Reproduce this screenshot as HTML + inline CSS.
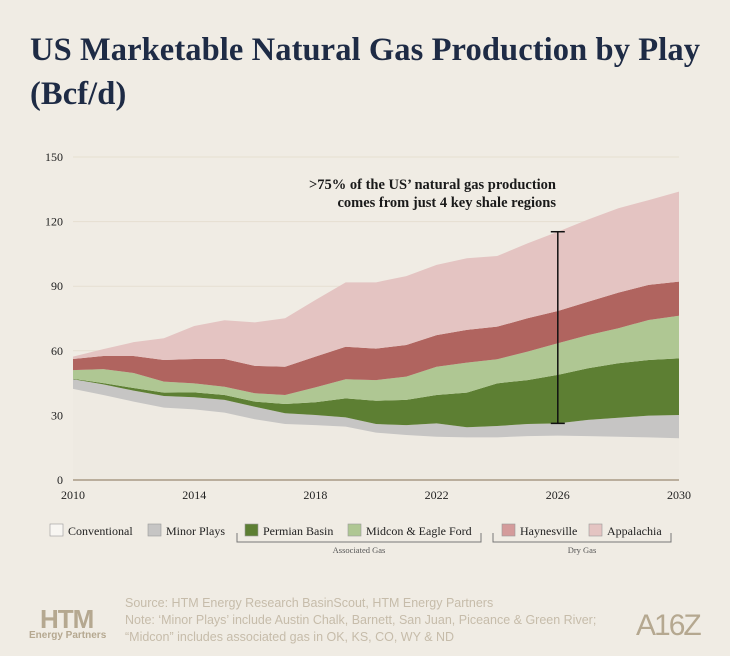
<!DOCTYPE html>
<html><head><meta charset="utf-8">
<style>
body{margin:0;background:#f0ece4;}
#root{position:relative;width:730px;height:656px;background:#f0ece4;overflow:hidden;font-family:"Liberation Serif",serif;}
h1{position:absolute;left:30px;top:28px;margin:0;font-size:32.5px;line-height:44px;color:#1e2b45;font-weight:bold;font-family:"Liberation Serif",serif;letter-spacing:0.1px;}
svg text{font-family:"Liberation Serif",serif;}
.foot{position:absolute;left:125px;color:#c6bcaa;font-family:"Liberation Sans",sans-serif;font-size:12.5px;}
</style></head><body>
<div id="root">
<h1>US Marketable Natural Gas Production by Play<br>(Bcf/d)</h1>
<svg id="chart" width="730" height="656" style="position:absolute;left:0;top:0"></svg>
<div class="foot" style="top:596px">Source: HTM Energy Research BasinScout, HTM Energy Partners</div>
<div class="foot" style="top:613px">Note: ‘Minor Plays’ include Austin Chalk, Barnett, San Juan, Piceance &amp; Green River;</div>
<div class="foot" style="top:630px">“Midcon” includes associated gas in OK, KS, CO, WY &amp; ND</div>
<div style="position:absolute;left:40px;top:604px;font-family:'Liberation Sans',sans-serif;font-weight:bold;color:#b5a890;font-size:26px;letter-spacing:-1px">HTM</div>
<div style="position:absolute;left:29px;top:630px;font-family:'Liberation Sans',sans-serif;font-weight:bold;color:#b5a890;font-size:10px">Energy Partners</div>
<div style="position:absolute;left:636px;top:609px;font-family:'Liberation Sans',sans-serif;color:#b5a890;font-size:30px;letter-spacing:-2px">A16Z</div>
</div>
<script>
const years=[2010,2011,2012,2013,2014,2015,2016,2017,2018,2019,2020,2021,2022,2023,2024,2025,2026,2027,2028,2029,2030];
const conventional=[42.3,39.5,36.4,33.6,32.8,31.3,28.2,26,25.5,24.8,22,20.9,20.1,19.8,19.8,20.4,20.6,20.4,20.1,19.8,19.4];
const minorPlays=[4.5,4.9,5.1,5.4,5.6,5.9,5.8,5,4.7,4.3,4,4.6,6.2,4.7,5.3,5.6,5.7,7.5,8.8,10.1,10.8];
const permian=[0.2,0.6,1.2,1.6,2.3,2.3,2.4,4.3,5.9,8.8,10.8,11.7,13.2,16.1,19.8,20.4,22.5,24,25.3,25.8,26.3];
const midcon=[4,6.5,7,5.1,4.2,3.8,3.9,4.2,6.9,8.9,9.6,10.8,13.1,13.9,11.2,13.2,14.7,15.4,16.3,18.6,19.8];
const haynesville=[5.2,6.1,7.9,10,11.3,12.9,12.7,13.1,14.3,15.1,14.6,14.7,14.7,15.2,15.1,15.5,15,15.5,16.5,16.3,15.8];
const appalachia=[1.1,3.2,6.4,10.1,15.3,18,20.2,22.5,26.3,29.9,30.8,32,32.6,33.3,32.8,34.8,36.8,38.2,39.2,39.4,41.8];
const yTicks=[0,30,60,90,120,150];
const xTicks=[2010,2014,2018,2022,2026,2030];
const seriesNames=["Conventional","Minor Plays","Permian Basin","Midcon & Eagle Ford","Haynesville","Appalachia"];

const svg=document.getElementById('chart');
const NS='http://www.w3.org/2000/svg';
const X0=73,X1=679,Y0=480,Y1=157;
const xS=v=>X0+(v-years[0])/(years[years.length-1]-years[0])*(X1-X0);
const yS=v=>Y0-v/150*(Y0-Y1);
function mk(t,a){const e=document.createElementNS(NS,t);for(const k in a)e.setAttribute(k,a[k]);svg.appendChild(e);return e;}

yTicks.forEach(t=>{
  if(t>0){const g=mk('line',{x1:X0,x2:X1,y1:yS(t),y2:yS(t),stroke:'#e6dfd1','stroke-width':1});
  
  }
  const l=mk('text',{x:63,y:yS(t)+4,'text-anchor':'end','font-size':12,fill:'#222'});l.textContent=t;
  
  
});
const series=[conventional,minorPlays,permian,midcon,haynesville,appalachia];
const colors=['#eeeae2','#c6c5c4','#5d7f33','#afc793','#b0645f','#e4c4c2'];
const slugs=['conventional','minor-plays','permian-basin','midcon-eagle-ford','haynesville','appalachia'];
let base=years.map(()=>0);
series.forEach((s,i)=>{
  const top=base.map((b,j)=>b+s[j]);
  let d='M'+years.map((y,j)=>xS(y)+','+yS(top[j])).join('L');
  for(let j=years.length-1;j>=0;j--)d+='L'+xS(years[j])+','+yS(base[j]);
  const p=mk('path',{d:d+'Z',fill:colors[i]});
  
  
  base=top;
});
const ax=mk('line',{x1:X0,x2:X1,y1:Y0,y2:Y0,stroke:'#a89a85','stroke-width':1.5});


xTicks.forEach(t=>{
  const l=mk('text',{x:xS(t),y:499,'text-anchor':'middle','font-size':12,fill:'#222'});l.textContent=t;
  
  
});
const i26=years.indexOf(2026);
const lo=conventional[i26]+minorPlays[i26];
const hi=series.reduce((a,s)=>a+s[i26],0);
const ex=xS(2026);
[[ex,yS(lo),ex,yS(hi)],[ex-7,yS(lo),ex+7,yS(lo)],[ex-7,yS(hi),ex+7,yS(hi)]].forEach((c,k)=>{
  const e=mk('line',{x1:c[0],y1:c[1],x2:c[2],y2:c[3],stroke:'#111','stroke-width':1.5});
  
  
});
['>75% of the US’ natural gas production','comes from just 4 key shale regions'].forEach((s,k)=>{
  const t=mk('text',{x:556,y:189+k*18,'text-anchor':'end','font-size':14.5,fill:'#1a1a1a','font-weight':'bold'});t.textContent=s;
  
  
});
const legX=[50,148,245,348,502,589];
const legCol=['#f8f6f2','#c6c5c4','#5d7f33','#afc793','#d49b9b','#e4c4c2'];
seriesNames.forEach((n,i)=>{
  const r=mk('rect',{x:legX[i],y:524,width:13,height:12,fill:legCol[i],stroke:'#999','stroke-width':0.6});
  
  
  const t=mk('text',{x:legX[i]+18,y:535,'font-size':12,fill:'#222'});t.textContent=n;
  
  
});
[[237,481,'Associated Gas',359],[493,671,'Dry Gas',582]].forEach((b,k)=>{
  const p=mk('path',{d:`M${b[0]},533V542H${b[1]}V533`,fill:'none',stroke:'#777','stroke-width':1});
  
  
  const t=mk('text',{x:b[3],y:553,'text-anchor':'middle','font-size':8.5,fill:'#555'});t.textContent=b[2];
  
  
});
</script>
</body></html>
